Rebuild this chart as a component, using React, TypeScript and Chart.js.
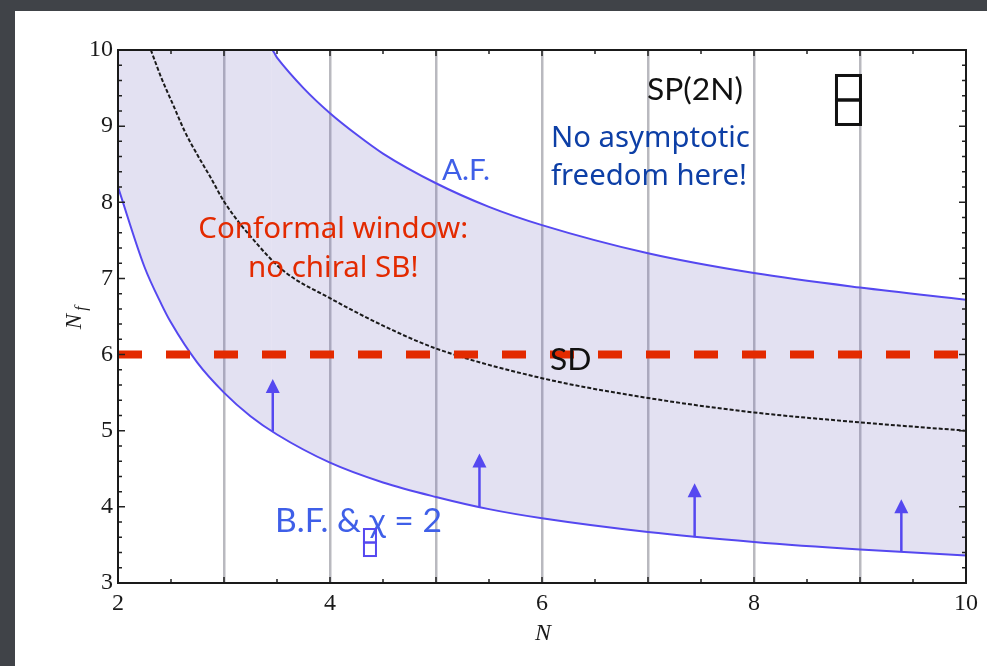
import React, { useEffect, useRef } from "react";
import { Chart, registerables } from "chart.js";
Chart.register(...registerables);

// ---------------- data ----------------
// upper boundary of the window (asymptotic freedom), capped at the top of the frame
const afN = [2, 3.45, 3.5, 3.75, 4, 4.26, 4.5, 5, 5.5, 6, 7, 8, 9, 10];
const afNf = [10, 10, 9.9, 9.5, 9.17, 8.88, 8.64, 8.25, 7.94, 7.7, 7.33, 7.07, 6.88, 6.72];
// lower boundary (B.F. & gamma = 2)
const bfN = [2, 2.25, 2.41, 2.5, 2.75, 3, 3.25, 3.5, 4, 4.5, 5, 5.5, 6, 7, 8, 9, 10];
const bfNf = [8.2, 7.15, 6.66, 6.42, 5.89, 5.5, 5.19, 4.95, 4.58, 4.32, 4.13, 3.97, 3.85, 3.67, 3.54, 3.44, 3.36];
// SD curve (black dashed)
const sdN = [2.31, 2.41, 2.52, 2.63, 2.75, 2.88, 3.0, 3.32, 3.57, 4.0, 4.5, 5, 6, 7, 8, 9, 10];
const sdNf = [10, 9.63, 9.28, 8.93, 8.62, 8.31, 8.01, 7.44, 7.09, 6.74, 6.38, 6.08, 5.69, 5.43, 5.24, 5.11, 5.0];
// horizontal red dashed line Nf = 6
const redN = [2, 10];
const redNf = [6, 6];
// arrows pointing up from the lower curve
const arrowN = [3.46, 5.41, 7.44, 9.39];
const arrowBase = [4.99, 4.0, 3.6, 3.41];
const arrowTip = [5.68, 4.7, 4.31, 4.1];
// axes
const xLabelValues = [2, 4, 6, 8, 10];
const yLabelValues = [3, 4, 5, 6, 7, 8, 9, 10];

// ---------------- styles ----------------
const BLUE = "#5548f0";
const FILL = "rgba(115,105,190,0.2)";
const GRID = "rgba(100,100,112,0.45)";
const RED = "#e32a00";
const DARKBLUE = "#0d3fa6";
const MIDBLUE = "#3f5fe8";
const SERIF = '"Liberation Serif", "Times New Roman", serif';
const SANS = 'Lato, "Open Sans", sans-serif';
const COMIC = '"Comic Sans MS", "Chalkboard SE", "Noto Sans", sans-serif';

const pts = (xs: number[], ys: number[]) => xs.map((x, i) => ({ x, y: ys[i] }));

function fitSize(ctx: CanvasRenderingContext2D, text: string, width: number, family: string, style = "") {
  ctx.font = `${style} 100px ${family}`;
  const w = ctx.measureText(text).width;
  return (100 * width) / w;
}

const decor = {
  id: "decor",
  afterDatasetsDraw(chart: any) {
    const { ctx, scales } = chart;
    const x = scales.x;
    const y = scales.y;
    ctx.save();
    // arrows
    ctx.strokeStyle = BLUE;
    ctx.fillStyle = BLUE;
    ctx.lineWidth = 2.5;
    arrowN.forEach((n, i) => {
      const px = x.getPixelForValue(n);
      const yb = y.getPixelForValue(arrowBase[i]);
      const yt = y.getPixelForValue(arrowTip[i]);
      const head = 14;
      ctx.beginPath();
      ctx.moveTo(px, yb);
      ctx.lineTo(px, yt + head - 1);
      ctx.stroke();
      ctx.beginPath();
      ctx.moveTo(px, yt);
      ctx.lineTo(px - 7, yt + head);
      ctx.lineTo(px + 7, yt + head);
      ctx.closePath();
      ctx.fill();
    });

    ctx.textBaseline = "alphabetic";
    // Conformal window text
    {
      const s = fitSize(ctx, "Conformal window:", 270, COMIC);
      ctx.font = `${s}px ${COMIC}`;
      ctx.fillStyle = RED;
      ctx.textAlign = "center";
      const cx = x.getPixelForValue(4.03);
      ctx.fillText("Conformal window:", cx, y.getPixelForValue(7.53));
      ctx.fillText("no chiral SB!", cx, y.getPixelForValue(7.02));
    }
    // No asymptotic freedom here!
    {
      const s = fitSize(ctx, "No asymptotic", 199, COMIC);
      ctx.font = `${s}px ${COMIC}`;
      ctx.fillStyle = DARKBLUE;
      ctx.textAlign = "left";
      const lx = x.getPixelForValue(6.085);
      ctx.fillText("No asymptotic", lx, y.getPixelForValue(8.726));
      ctx.fillText("freedom here!", lx, y.getPixelForValue(8.227));
    }
    // SP(2N)
    {
      const s = fitSize(ctx, "SP(2N)", 96, SANS);
      ctx.font = `${s}px ${SANS}`;
      ctx.fillStyle = "#111";
      ctx.textAlign = "left";
      ctx.fillText("SP(2N)", x.getPixelForValue(6.99), y.getPixelForValue(9.343));
      // SD uses the same size
      ctx.fillText("SD", x.getPixelForValue(6.075), y.getPixelForValue(5.797));
    }
    // A.F.
    {
      const s = fitSize(ctx, "A.F.", 48, SANS);
      ctx.font = `${s}px ${SANS}`;
      ctx.fillStyle = MIDBLUE;
      ctx.textAlign = "left";
      ctx.fillText("A.F.", x.getPixelForValue(5.057), y.getPixelForValue(8.293));
    }
    // B.F. & chi = 2
    {
      const t = "B.F. & \u03c7 = 2";
      const s = fitSize(ctx, t, 167, SANS);
      ctx.font = `${s}px ${SANS}`;
      ctx.fillStyle = MIDBLUE;
      ctx.textAlign = "left";
      ctx.fillText(t, x.getPixelForValue(3.481), y.getPixelForValue(3.67));
    }
    // Young tableaux (two stacked boxes)
    {
      const bx = x.getPixelForValue(8.764);
      const by = y.getPixelForValue(9.685);
      ctx.strokeStyle = "#111";
      ctx.lineWidth = 3;
      ctx.strokeRect(bx + 1.5, by + 1.5, 24, 24.5);
      ctx.strokeRect(bx + 1.5, by + 26, 24, 24.5);
      const sx = x.getPixelForValue(4.311);
      const sy = y.getPixelForValue(3.722);
      ctx.strokeStyle = BLUE;
      ctx.lineWidth = 2;
      ctx.strokeRect(sx + 1, sy + 1, 12, 13.5);
      ctx.strokeRect(sx + 1, sy + 14.5, 12, 13.5);
    }
    ctx.restore();
  },
  afterDraw(chart: any) {
    const { ctx, chartArea: a, scales } = chart;
    const x = scales.x;
    const y = scales.y;
    ctx.save();
    // inward ticks
    ctx.strokeStyle = "#222";
    ctx.lineWidth = 1.5;
    ctx.beginPath();
    for (let i = 0; i <= 35; i++) {
      const py = y.getPixelForValue(3 + i * 0.2);
      const len = i % 5 === 0 ? 7 : 4;
      ctx.moveTo(a.left, py);
      ctx.lineTo(a.left + len, py);
      ctx.moveTo(a.right, py);
      ctx.lineTo(a.right - len, py);
    }
    for (let i = 0; i <= 16; i++) {
      const px = x.getPixelForValue(2 + i * 0.5);
      const len = i % 2 === 0 ? 6 : 4;
      ctx.moveTo(px, a.bottom);
      ctx.lineTo(px, a.bottom - len);
      ctx.moveTo(px, a.top);
      ctx.lineTo(px, a.top + len);
    }
    ctx.stroke();
    // frame
    ctx.strokeStyle = "#1a1a1a";
    ctx.lineWidth = 2;
    ctx.strokeRect(a.left, a.top, a.right - a.left, a.bottom - a.top);

    // axis titles
    ctx.fillStyle = "#1a1a1a";
    ctx.textAlign = "center";
    ctx.textBaseline = "middle";
    ctx.font = `italic 24px ${SERIF}`;
    ctx.fillText("N", (a.left + a.right) / 2 + 1, a.bottom + 51);
    // y title N_f rotated
    ctx.translate(a.left - 43, (a.top + a.bottom) / 2 + 5);
    ctx.rotate(-Math.PI / 2);
    ctx.font = `italic 23px ${SERIF}`;
    ctx.fillText("N", 0, 0);
    ctx.font = `italic 16px ${SERIF}`;
    ctx.fillText("f", 13, 7);
    ctx.restore();
  },
};

export default function App() {
  const ref = useRef<HTMLCanvasElement>(null);
  useEffect(() => {
    const canvas = ref.current;
    if (!canvas) return;
    const chart = new Chart(canvas, {
      type: "line",
      data: {
        datasets: [
          {
            label: "A.F.",
            data: pts(afN, afNf),
            borderColor: BLUE,
            borderWidth: 2,
            pointRadius: 0,
            cubicInterpolationMode: "monotone",
            fill: false,
            order: 2,
            segment: {
              borderColor: (c: any) => (c.p0DataIndex === 0 ? "rgba(0,0,0,0)" : undefined),
            },
          },
          {
            label: "B.F.",
            data: pts(bfN, bfNf),
            borderColor: BLUE,
            borderWidth: 2,
            pointRadius: 0,
            cubicInterpolationMode: "monotone",
            fill: "-1",
            backgroundColor: FILL,
            order: 3,
          },
          {
            label: "SD",
            data: pts(sdN, sdNf),
            borderColor: "#1a1a1a",
            borderWidth: 2,
            borderDash: [4, 2],
            pointRadius: 0,
            cubicInterpolationMode: "monotone",
            fill: false,
            order: 1,
          },
          {
            label: "Nf=6",
            data: pts(redN, redNf),
            borderColor: RED,
            borderWidth: 8,
            borderDash: [24, 24],
            borderCapStyle: "butt",
            pointRadius: 0,
            fill: false,
            order: 0,
          },
        ] as any,
      },
      options: {
        animation: false,
        responsive: false,
        devicePixelRatio: 1,
        events: [],
        layout: { padding: { left: 0, top: 39, right: 21, bottom: 0 } },
        plugins: { legend: { display: false }, tooltip: { enabled: false } },
        scales: {
          x: {
            type: "linear",
            min: 2,
            max: 10,
            ticks: {
              stepSize: 1,
              autoSkip: false,
              maxRotation: 0,
              padding: 6,
              color: "#1a1a1a",
              font: { family: SERIF, size: 24 },
              callback: (v: any) => (xLabelValues.includes(Number(v)) ? String(v) : ""),
            },
            grid: {
              drawTicks: false,
              lineWidth: 2.5,
              color: (c: any) => (c.tick && (c.tick.value === 2 || c.tick.value === 10) ? "rgba(0,0,0,0)" : GRID),
            },
            border: { display: false },
            afterFit: (s: any) => {
              s.height = 83;
            },
          },
          y: {
            type: "linear",
            min: 3,
            max: 10,
            ticks: {
              stepSize: 1,
              padding: 5,
              color: "#1a1a1a",
              font: { family: SERIF, size: 24 },
              callback: (v: any) => (yLabelValues.includes(Number(v)) ? String(v) : ""),
            },
            grid: { display: false, drawTicks: false },
            border: { display: false },
            afterFit: (s: any) => {
              s.width = 103;
            },
          },
        },
      } as any,
      plugins: [decor],
    });
    return () => chart.destroy();
  }, []);

  return (
    <div
      style={{
        position: "fixed",
        left: 0,
        top: 0,
        width: 987,
        height: 666,
        background: "#404348",
        overflow: "hidden",
      }}
    >
      <div style={{ position: "absolute", left: 15, top: 11, width: 972, height: 655, background: "#ffffff" }}>
        <canvas ref={ref} width={972} height={655} style={{ display: "block", width: 972, height: 655 }} />
      </div>
    </div>
  );
}
